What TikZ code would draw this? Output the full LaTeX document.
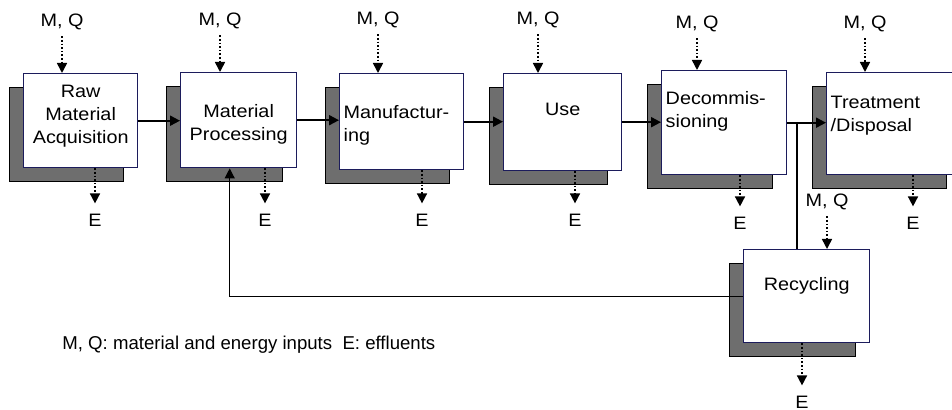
\documentclass[tikz,border=0pt]{standalone}
\usepackage{fontspec}
\setmainfont{Liberation Sans}[FakeStretch=1.1]
\newfontfamily\legendfont{Liberation Sans}
\usetikzlibrary{arrows.meta,shadows}
\definecolor{frame}{HTML}{1C1C5C}
\definecolor{shade}{HTML}{6E6E6E}

\begin{document}
\begin{tikzpicture}[x=0.5pt,y=-0.5pt,>={Triangle[length=5pt,width=5pt]},font=\fontsize{9}{11.5}\selectfont,
  stage/.style={draw=frame,line width=0.7pt,fill=white,anchor=north west,inner xsep=2pt,inner ysep=0pt,
    drop shadow={shadow xshift=-7pt,shadow yshift=-7pt,opacity=1,fill=shade,draw=black,line width=0.5pt}},
  flow/.style={->,line width=1pt},
  link/.style={line width=0.6pt},
  io/.style={inner sep=0pt},
  inflow/.style={->,densely dotted,line width=0.8pt,shorten <=3pt},
  outflow/.style={->,densely dotted,line width=0.8pt,shorten >=5pt}]
  \clip (0,0) rectangle (952,410);
  \node[stage,align=center,text width=53pt,text height=12pt,text depth=35pt] (raw) at (23,73) {Raw\\Material\\Acquisition};
  \node[stage,align=center,text width=54pt,text height=22.5pt,text depth=25pt] (proc) at (180,72) {Material\\Processing};
  \node[stage,align=left,text width=58pt,text height=22.5pt,text depth=25.5pt] (manu) at (339,73) {Manufactur-\\ing};
  \node[stage,align=center,text width=55pt,text height=21pt,text depth=27.5pt] (use) at (503,73) {Use};
  \node[stage,align=left,text width=58.5pt,text height=17pt,text depth=35pt] (decom) at (661,70) {Decommis-\\sioning};
  \node[stage,align=left,text width=63pt,text height=18pt,text depth=33pt] (treat) at (826,72) {Treatment\\/Disposal};
  \node[stage,align=center,text width=59pt,text height=20.5pt,text depth=26pt] (recyc) at (743,249) {Recycling};
  \draw[flow] (raw.east) -- (raw.east -| proc.west);
  \draw[flow] (proc.east) -- (proc.east -| manu.west);
  \draw[flow] (manu.east) -- (manu.east -| use.west);
  \draw[flow] (use.east) -- (use.east -| decom.west);
  \draw[flow] (decom.east) -- (decom.east -| treat.west);
  \coordinate (split) at (797,122);
  \draw[link] (split) -- (split |- recyc.north);
  \draw[link,->] (recyc.west) -| ([xshift=-4.5pt]proc.south);
  \node[io] (mqraw) at (62,22) {M, Q};
  \node[io] (mqproc) at (220,21) {M, Q};
  \node[io] (mqmanu) at (378,20) {M, Q};
  \node[io] (mquse) at (538,20) {M, Q};
  \node[io] (mqdecom) at (697,24) {M, Q};
  \node[io] (mqtreat) at (865,24) {M, Q};
  \node[io] (mqrecyc) at (827,202) {M, Q};
  \draw[inflow] (mqraw.south) -- (mqraw.south |- raw.north);
  \draw[inflow] (mqproc.south) -- (mqproc.south |- proc.north);
  \draw[inflow] (mqmanu.south) -- (mqmanu.south |- manu.north);
  \draw[inflow] (mquse.south) -- (mquse.south |- use.north);
  \draw[inflow] (mqdecom.south) -- (mqdecom.south |- decom.north);
  \draw[inflow] (mqtreat.south) -- (mqtreat.south |- treat.north);
  \draw[inflow] (mqrecyc.south) -- (mqrecyc.south |- recyc.north);
  \node[io] (eraw) at (95,220) {E};
  \node[io] (eproc) at (265,220) {E};
  \node[io] (emanu) at (422,220) {E};
  \node[io] (euse) at (575,220) {E};
  \node[io] (edecom) at (740,223) {E};
  \node[io] (etreat) at (913,223) {E};
  \node[io] (erecyc) at (802,402) {E};
  \draw[outflow] (eraw.north |- raw.south) -- (eraw.north);
  \draw[outflow] (eproc.north |- proc.south) -- (eproc.north);
  \draw[outflow] (emanu.north |- manu.south) -- (emanu.north);
  \draw[outflow] (euse.north |- use.south) -- (euse.north);
  \draw[outflow] (edecom.north |- decom.south) -- (edecom.north);
  \draw[outflow] (etreat.north |- treat.south) -- (etreat.north);
  \draw[outflow] (erecyc.north |- recyc.south) -- (erecyc.north);
  \node[io,anchor=west,font=\fontsize{9.3}{11}\legendfont] (legend) at (62,345) {M, Q: material and energy inputs\ \ E: effluents};
\end{tikzpicture}
\end{document}
